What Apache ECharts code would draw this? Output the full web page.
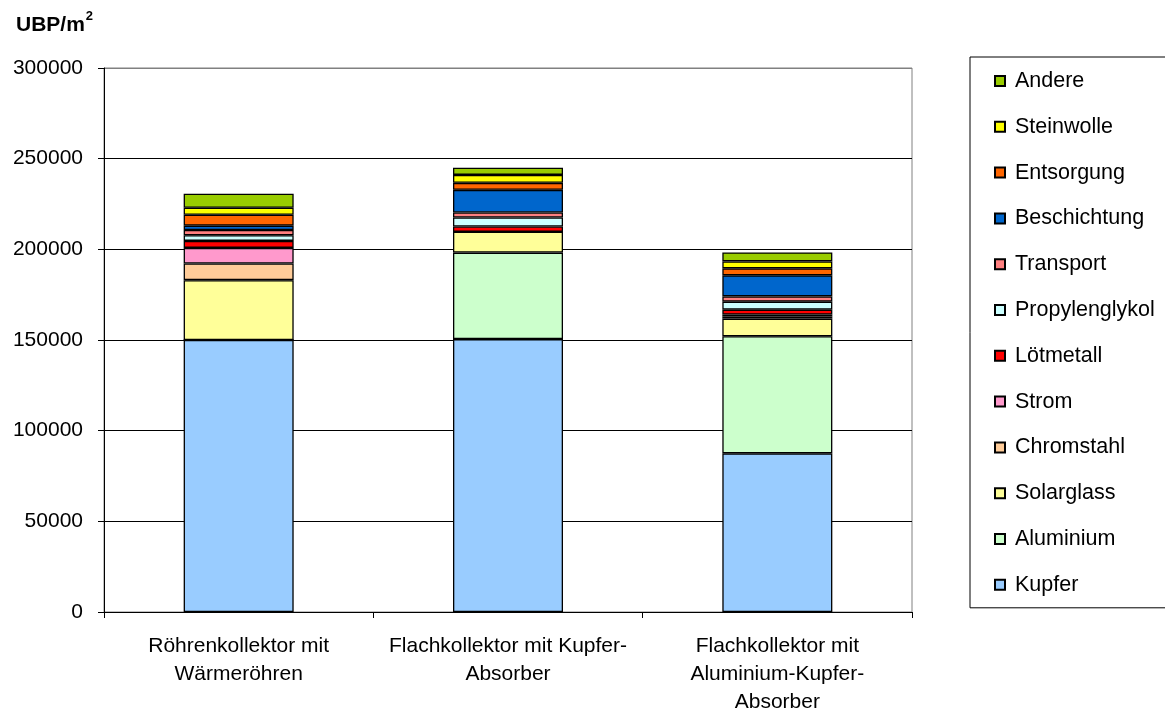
<!DOCTYPE html>
<html><head><meta charset="utf-8">
<script src="https://cdn.jsdelivr.net/npm/echarts@6/dist/echarts.min.js"></script>
<style>html,body{margin:0;padding:0;background:#fff}#c{width:1165px;height:711px}</style>
</head><body><div id="c"></div>
<script>
const categories = ["Röhrenkollektor mit\nWärmeröhren", "Flachkollektor mit Kupfer-\nAbsorber", "Flachkollektor mit\nAluminium-Kupfer-\nAbsorber"];
const seriesNames = ["Kupfer","Aluminium","Solarglass","Chromstahl","Strom","Lötmetall","Propylenglykol","Transport","Beschichtung","Entsorgung","Steinwolle","Andere"];
const Kupfer = [150000, 150500, 87500];
const Aluminium = [0, 47700, 64600];
const Solarglass = [33000, 11500, 9700];
const Chromstahl = [9200, 0, 1100];
const Strom = [8600, 0, 1100];
const Loetmetall = [3850, 2900, 2750];
const Propylenglykol = [3100, 4950, 4400];
const Transport = [2900, 2750, 2900];
const Beschichtung = [2400, 12500, 11600];
const Entsorgung = [6050, 3850, 3850];
const Steinwolle = [3850, 4400, 3850];
const Andere = [7700, 4000, 4950];
const seriesValues = [Kupfer, Aluminium, Solarglass, Chromstahl, Strom, Loetmetall, Propylenglykol, Transport, Beschichtung, Entsorgung, Steinwolle, Andere];
const colors = ["#99CCFF","#CCFFCC","#FFFF99","#FFCC99","#FF99CC","#FF0000","#CCFFFF","#FF8080","#0066CC","#FF6600","#FFFF00","#99CC00"];
const yTicks = [0, 50000, 100000, 150000, 200000, 250000, 300000];

const FONT = '"Liberation Sans", Arial, sans-serif';
const chart = echarts.init(document.getElementById('c'), null, {renderer:'canvas'});
chart.setOption({
  animation: false,
  backgroundColor: '#fff',
  textStyle: {fontFamily: FONT},
  grid: {left: 104, right: 253, top: 68, bottom: 99, show: true, borderColor: '#808080', borderWidth: 1, containLabel: false, outerBoundsMode: 'none'},
  title: {
    text: '{b|UBP/m}{s|2}', left: 11, top: 5,
    textStyle: {rich: {
      b: {fontFamily: FONT, fontWeight: 'bold', fontSize: 21, color: '#000', verticalAlign: 'bottom', lineHeight: 26},
      s: {fontFamily: FONT, fontWeight: 'bold', fontSize: 13, color: '#000', verticalAlign: 'top', lineHeight: 26, padding: [0,0,12,1]}
    }}
  },
  legend: {
    orient: 'vertical', left: 970, top: 57,
    data: seriesNames.slice().reverse(),
    icon: 'rect', itemWidth: 10, itemHeight: 10, itemGap: 23.8,
    padding: [13, 40, 12, 24],
    borderColor: '#000', borderWidth: 1,
    textStyle: {fontFamily: FONT, fontSize: 21.5, color: '#000', lineHeight: 20, padding: [0,0,0,5]},
    selectedMode: false
  },
  xAxis: {
    type: 'category', data: categories,
    axisLine: {lineStyle: {color: '#000', width: 1}},
    axisTick: {show: true, length: 6, lineStyle: {color: '#000'}},
    axisLabel: {fontFamily: FONT, fontSize: 21, color: '#000', lineHeight: 28, margin: 20, interval: 0},
    splitLine: {show: false}
  },
  yAxis: {
    type: 'value', min: 0, max: 300000, interval: 50000,
    axisLine: {show: true, lineStyle: {color: '#000', width: 1}},
    axisTick: {show: true, length: 6, lineStyle: {color: '#000'}},
    axisLabel: {fontFamily: FONT, fontSize: 21, color: '#000', margin: 21,
      formatter: v => yTicks.includes(v) ? String(v) : ''},
    splitLine: {show: true, lineStyle: {color: ['#000','#000','#000','#000','#000','#000','#808080'], width: 1}}
  },
  series: seriesNames.map((n, i) => ({
    name: n, type: 'bar', stack: 'total', data: seriesValues[i],
    barWidth: 110,
    itemStyle: {color: colors[i], borderColor: '#000', borderWidth: 1.3},
    emphasis: {disabled: true}
  }))
});
</script></body></html>
